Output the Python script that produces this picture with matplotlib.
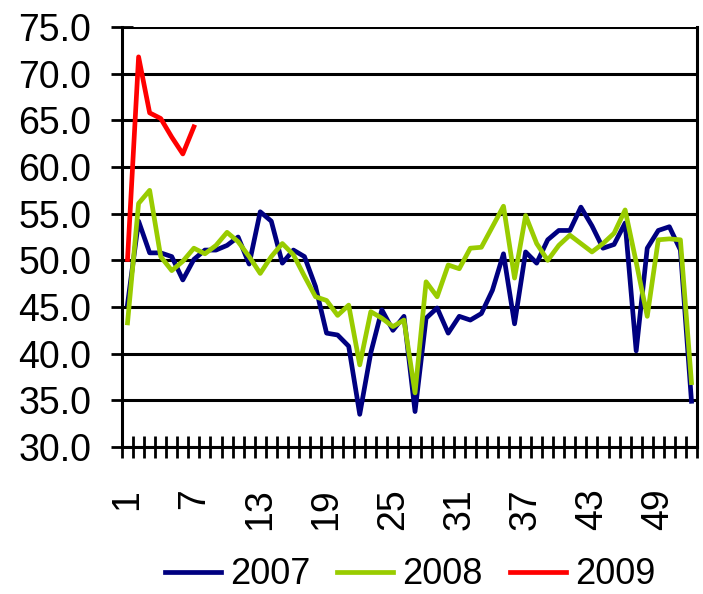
#!/usr/bin/env python3

import numpy as np
import matplotlib
matplotlib.use('Agg')
import matplotlib.pyplot as plt

plt.rcParams.update({
    'font.family': 'Liberation Sans',
    'font.size': 27,
})

weeks = np.arange(1, 53)

y2007 = [45.3, 54.2, 50.8, 50.8, 50.4, 47.9, 50.1, 51.1, 51.1, 51.6,
         52.5, 49.6, 55.2, 54.2, 49.7, 51.1, 50.4, 47.2, 42.2, 42.0,
         40.8, 33.5, 40.1, 44.7, 42.5, 44.0, 33.8, 43.8, 44.9, 42.2,
         44.0, 43.6, 44.3, 46.8, 50.7, 43.2, 50.9, 49.7, 52.2, 53.2,
         53.2, 55.7, 53.7, 51.3, 51.7, 54.0, 40.3, 51.3, 53.2, 53.6,
         51.1, 34.9]

y2008 = [43.3, 56.1, 57.5, 50.4, 48.9, 49.9, 51.3, 50.7, 51.6, 53.0,
         52.0, 50.4, 48.6, 50.4, 51.8, 50.6, 48.3, 46.1, 45.7, 44.1,
         45.2, 38.8, 44.5, 43.8, 42.9, 43.6, 35.8, 47.7, 46.1, 49.5,
         49.1, 51.3, 51.4, 53.6, 55.8, 48.1, 54.8, 51.8, 50.0, 51.6,
         52.7, 51.8, 50.9, 51.8, 52.9, 55.4, 49.8, 44.0, 52.2, 52.3,
         52.2, 36.9]

y2009 = [50.1, 71.8, 65.8, 65.2, 63.2, 61.4, 64.3]

years = ['2007', '2008', '2009']
colors = ['#000080', '#99CC00', '#FF0000']
tick_weeks = np.arange(1, 53, 6)

fig = plt.figure(figsize=(7.03, 5.94), dpi=100)
ax = fig.add_axes([122/703, 1-447/594, (697-122)/703, (447-27)/594])

series = [y2007, y2008, y2009]
for vals, name, col in zip(series, years, colors):
    ax.plot(weeks[:len(vals)], vals, color=col, linewidth=3.4, label=name)

ax.set_xlim(0.5, 52.5)
ax.set_ylim(30, 75)

# horizontal grid only
ax.set_yticks(np.arange(30, 76, 5))
ax.set_yticklabels(['%.1f' % v for v in np.arange(30, 76, 5)])
ax.yaxis.grid(True, color='black', linewidth=2.2)
ax.set_axisbelow(True)

# category labels every 6 weeks, tick marks on category boundaries
ax.set_xticks(tick_weeks)
ax.set_xticklabels([str(w) for w in tick_weeks], rotation=90,
                   va='top', ha='center')
ax.set_xticks(np.arange(0.5, 53, 1), minor=True)
ax.tick_params(axis='x', which='major', length=0, pad=30)
ax.tick_params(axis='x', which='minor', direction='inout', length=16,
               width=2)
ax.tick_params(axis='y', direction='inout', length=16, width=2, pad=14)

for side in ['left', 'bottom', 'right']:
    ax.spines[side].set_linewidth(2.2)
ax.spines['top'].set_visible(False)

fig.legend(loc='center', bbox_to_anchor=(410/703, 1-575/594), ncol=3,
           frameon=False, handlelength=1.55, handletextpad=0.25,
           columnspacing=0.75, borderaxespad=0, borderpad=0, fontsize=26)

plt.savefig('out.png', dpi=100)
plt.close()
